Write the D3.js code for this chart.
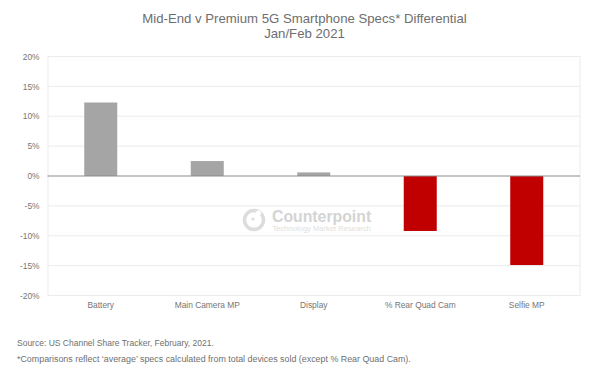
<!DOCTYPE html>
<html>
<head>
<meta charset="utf-8">
<script src="https://cdn.jsdelivr.net/npm/d3@7"></script>
<style>
html, body { margin: 0; padding: 0; background: white; }
svg { display: block; }
text { font-family: "Liberation Sans", Arial, sans-serif; }
</style>
</head>
<body>
<svg id="chart" width="600" height="372"></svg>
<script>
const categories = ["Battery", "Main Camera MP", "Display", "% Rear Quad Cam", "Selfie MP"];
const differential = [12.3, 2.5, 0.6, -9.2, -14.9];
const tickValues = [20, 15, 10, 5, 0, -5, -10, -15, -20];
const titleLines = ["Mid-End v Premium 5G Smartphone Specs* Differential", "Jan/Feb 2021"];
const notes = ["Source: US Channel Share Tracker, February, 2021.",
    "*Comparisons reflect ‘average’ specs calculated from total devices sold (except % Rear Quad Cam)."];

const GREY_BAR = "#a5a5a5", RED_BAR = "#c00000";
const svg = d3.select("#chart");

let x = d3.scaleBand().domain(categories).range([47.5, 580]).paddingInner(0.69).paddingOuter(0.345);
let y = d3.scaleLinear().domain([-20, 20]).range([295.5, 56.5]);

// title
svg.append("g").selectAll("text").data(titleLines).join("text")
    .attr("x", 304.5)
    .attr("y", (_, i) => 22.5 + i * 15)
    .attr("text-anchor", "middle")
    .attr("font-size", 13.2)
    .attr("fill", "#6e6e6e")
    .text(d => d);

// gridlines + y axis
let yAxis = d3.axisLeft(y).tickValues(tickValues).tickSize(0).tickPadding(8).tickFormat(d => d + "%");
let yG = svg.append("g").attr("transform", "translate(47.5,0)").call(yAxis);
yG.select(".domain").attr("stroke", "#ebebeb");
yG.selectAll("text").attr("font-family", '"Liberation Sans", Arial, sans-serif').attr("font-size", 8.4).attr("fill", "#757575");

svg.append("g").selectAll("line").data(tickValues.filter(d => d != 0)).join("line")
    .attr("x1", 47.5).attr("x2", 580)
    .attr("y1", d => y(d)).attr("y2", d => y(d))
    .attr("stroke", "#ebebeb");
svg.append("line").attr("x1", 580).attr("x2", 580).attr("y1", 56.5).attr("y2", 295.5).attr("stroke", "#ebebeb");

// watermark
let mark = svg.append("g").attr("transform", "translate(254,220)");
mark.append("circle").attr("r", 9.5).attr("fill", "none").attr("stroke", "#dcdcdc").attr("stroke-width", 3.5);
mark.append("circle").attr("cx", -1).attr("cy", -1).attr("r", 1.6).attr("fill", "#dcdcdc");
mark.append("circle").attr("cx", 4.5).attr("cy", -7).attr("r", 2.6).attr("fill", "white");
svg.append("text").attr("x", 272).attr("y", 221.5).attr("font-family", '"Open Sans", sans-serif').attr("font-weight", 700)
    .attr("font-size", 15.8).attr("fill", "#d4d4d4").text("Counterpoint");
svg.append("text").attr("x", 272.5).attr("y", 231).attr("font-family", '"Open Sans", sans-serif')
    .attr("font-size", 7.6).attr("fill", "#e0e0e0").text("Technology Market Research");

// bars
svg.append("g").selectAll("rect").data(differential).join("rect")
    .attr("x", (_, i) => x(categories[i]))
    .attr("y", d => y(Math.max(d, 0)))
    .attr("width", x.bandwidth())
    .attr("height", d => Math.abs(y(d) - y(0)))
    .attr("fill", d => d < 0 ? RED_BAR : GREY_BAR);

// zero line
svg.append("line").attr("x1", 47.5).attr("x2", 580).attr("y1", y(0)).attr("y2", y(0))
    .attr("stroke", "#8c8c8c").attr("stroke-width", 1.2);

// category labels
let xAxis = d3.axisBottom(x).tickSize(0).tickPadding(4);
let xG = svg.append("g").attr("transform", "translate(0,298)").call(xAxis);
xG.select(".domain").remove();
xG.selectAll("text").attr("font-family", '"Liberation Sans", Arial, sans-serif').attr("font-size", 8.4).attr("fill", "#757575");

// footnotes
svg.append("g").selectAll("text").data(notes).join("text")
    .attr("x", 17)
    .attr("y", (_, i) => 345.5 + i * 16)
    .attr("font-family", '"Open Sans", sans-serif')
    .attr("font-size", (_, i) => i == 0 ? 8.5 : 8.9)
    .attr("fill", "#6f6f6f")
    .text(d => d);
</script>
</body>
</html>
